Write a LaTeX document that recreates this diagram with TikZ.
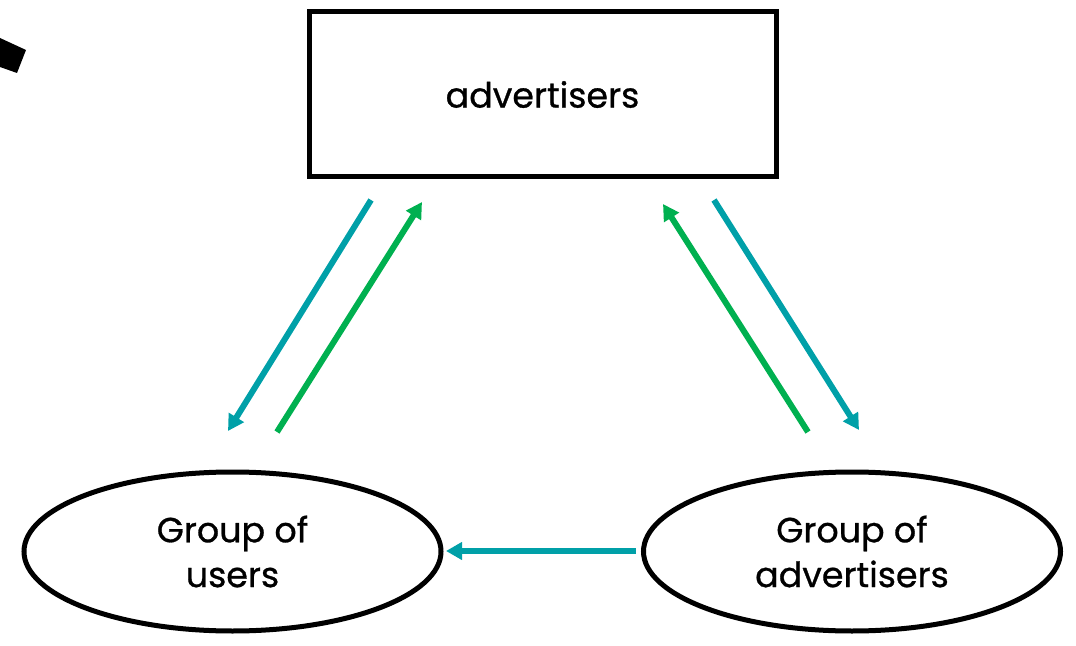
\documentclass[tikz,border=0pt]{standalone}
\usepackage{fontspec}
\setmainfont{Poppins}[FakeBold=0.8]
\usetikzlibrary{arrows.meta,shapes.geometric}
\definecolor{tealc}{RGB}{0,160,168}
\definecolor{greenc}{RGB}{0,176,80}
\begin{document}
\begin{tikzpicture}[x=1bp,y=-1bp,
  box/.style={draw=black,line width=5bp,minimum width=467bp,minimum height=165bp,inner sep=0},
  grp/.style={draw=black,ellipse,line width=5bp,minimum width=417bp,minimum height=159bp,inner sep=0,align=center,font=\fontsize{35}{45}\selectfont},
  tarr/.style={draw=tealc,line width=6bp,-{Triangle[length=16bp,width=17bp]}},
  garr/.style={draw=greenc,line width=6bp,-{Triangle[length=16bp,width=17bp]}}]
\useasboundingbox (0,0) rectangle (1076,646);
\fill[black] (0,38) -- (26,50) -- (17,73) -- (0,67) -- cycle;
\node[box,font=\fontsize{35}{40}\selectfont] (adv) at (542.5,94.5) {advertisers};
\node[grp] (users) at (232.5,551.5) {Group of\\users};
\node[grp] (advg) at (852,551.5) {Group of\\advertisers};
\coordinate (t1s) at (371,200); \coordinate (t1e) at (228,431);
\coordinate (g1s) at (277,432); \coordinate (g1e) at (422,202);
\coordinate (g2s) at (808,432); \coordinate (g2e) at (663,204);
\coordinate (t2s) at (714,200); \coordinate (t2e) at (859,430);
\coordinate (bs) at (636,551); \coordinate (be) at (446,551);
\draw[tarr] (t1s) -- (t1e);
\draw[garr] (g1s) -- (g1e);
\draw[garr] (g2s) -- (g2e);
\draw[tarr] (t2s) -- (t2e);
\draw[tarr] (bs) -- (be);
\end{tikzpicture}
\end{document}
